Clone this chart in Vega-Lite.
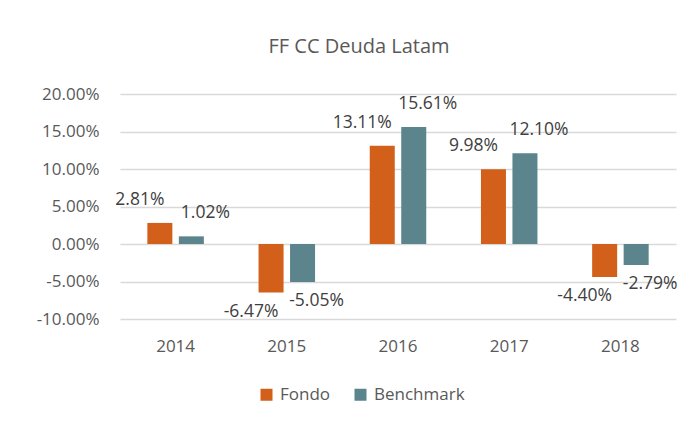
{
  "$schema": "https://vega.github.io/schema/vega-lite/v6.json",
  "width": 556,
  "height": 225,
  "autosize": {"type": "none"},
  "padding": {"left": 120, "top": 94, "right": 18, "bottom": 106},
  "background": "white",
  "title": {
    "text": "FF CC Deuda Latam",
    "anchor": "middle",
    "dx": -39,
    "offset": 12,
    "baseline": "alphabetic",
    "font": "Open Sans",
    "fontSize": 20,
    "fontWeight": "normal",
    "color": "#595959"
  },
  "config": {
    "locale": {
      "number": {"decimal": ".", "thousands": ",", "grouping": [3], "currency": ["$", ""], "minus": "-"}
    },
    "view": {"stroke": null},
    "font": "Open Sans"
  },
  "data": {
    "values": [
      {"year": "2014", "series": "Fondo", "value": 0.0281},
      {"year": "2014", "series": "Benchmark", "value": 0.0102},
      {"year": "2015", "series": "Fondo", "value": -0.0647},
      {"year": "2015", "series": "Benchmark", "value": -0.0505},
      {"year": "2016", "series": "Fondo", "value": 0.1311},
      {"year": "2016", "series": "Benchmark", "value": 0.1561},
      {"year": "2017", "series": "Fondo", "value": 0.0998},
      {"year": "2017", "series": "Benchmark", "value": 0.1210},
      {"year": "2018", "series": "Fondo", "value": -0.0440},
      {"year": "2018", "series": "Benchmark", "value": -0.0279}
    ]
  },
  "encoding": {
    "x": {
      "field": "year",
      "type": "nominal",
      "scale": {"paddingInner": 0, "paddingOuter": 0},
      "axis": {
        "title": null,
        "domain": false,
        "ticks": false,
        "labelAngle": 0,
        "labelPadding": 19,
        "labelFont": "Open Sans",
        "labelFontSize": 17,
        "labelColor": "#595959"
      }
    },
    "xOffset": {
      "field": "series",
      "type": "nominal",
      "sort": ["Fondo", "Benchmark"],
      "scale": {"paddingInner": 0.206, "paddingOuter": 0.868}
    },
    "y": {
      "field": "value",
      "type": "quantitative",
      "scale": {"domain": [-0.1, 0.2], "nice": false, "zero": true},
      "axis": {
        "title": null,
        "format": ".2%",
        "values": [-0.1, -0.05, 0, 0.05, 0.1, 0.15, 0.2],
        "domain": false,
        "ticks": false,
        "grid": true,
        "gridColor": "#D9D9D9",
        "gridWidth": 1.5,
        "labelPadding": 21,
        "labelFont": "Open Sans",
        "labelFontSize": 17,
        "labelColor": "#595959"
      }
    }
  },
  "layer": [
    {
      "mark": {"type": "bar"},
      "encoding": {
        "color": {
          "field": "series",
          "type": "nominal",
          "scale": {"domain": ["Fondo", "Benchmark"], "range": ["#D2601A", "#5B848C"]},
          "legend": {
            "title": null,
            "orient": "none",
            "direction": "horizontal",
            "legendX": 138,
            "legendY": 292,
            "symbolType": "square",
            "symbolSize": 144,
            "symbolStrokeWidth": 0,
            "labelFont": "Open Sans",
            "labelFontSize": 17,
            "labelColor": "#595959",
            "labelOffset": 5,
            "columnPadding": 21
          }
        }
      }
    },
    {
      "transform": [{"filter": {"and": [{"field": "series", "equal": "Fondo"}, {"field": "value", "gt": 0}]}}],
      "mark": {"type": "text", "dx": -20, "dy": -23, "font": "Open Sans", "fontSize": 17.5, "color": "#404040"},
      "encoding": {"text": {"field": "value", "type": "quantitative", "format": ".2%"}}
    },
    {
      "transform": [{"filter": {"and": [{"field": "series", "equal": "Benchmark"}, {"field": "value", "gt": 0}]}}],
      "mark": {"type": "text", "dx": 14, "dy": -23, "font": "Open Sans", "fontSize": 17.5, "color": "#404040"},
      "encoding": {"text": {"field": "value", "type": "quantitative", "format": ".2%"}}
    },
    {
      "transform": [{"filter": {"and": [{"field": "series", "equal": "Fondo"}, {"field": "value", "lt": 0}]}}],
      "mark": {"type": "text", "dx": -20, "dy": 19, "font": "Open Sans", "fontSize": 17.5, "color": "#404040"},
      "encoding": {"text": {"field": "value", "type": "quantitative", "format": ".2%"}}
    },
    {
      "transform": [{"filter": {"and": [{"field": "series", "equal": "Benchmark"}, {"field": "value", "lt": 0}]}}],
      "mark": {"type": "text", "dx": 14, "dy": 19, "font": "Open Sans", "fontSize": 17.5, "color": "#404040"},
      "encoding": {"text": {"field": "value", "type": "quantitative", "format": ".2%"}}
    }
  ]
}
